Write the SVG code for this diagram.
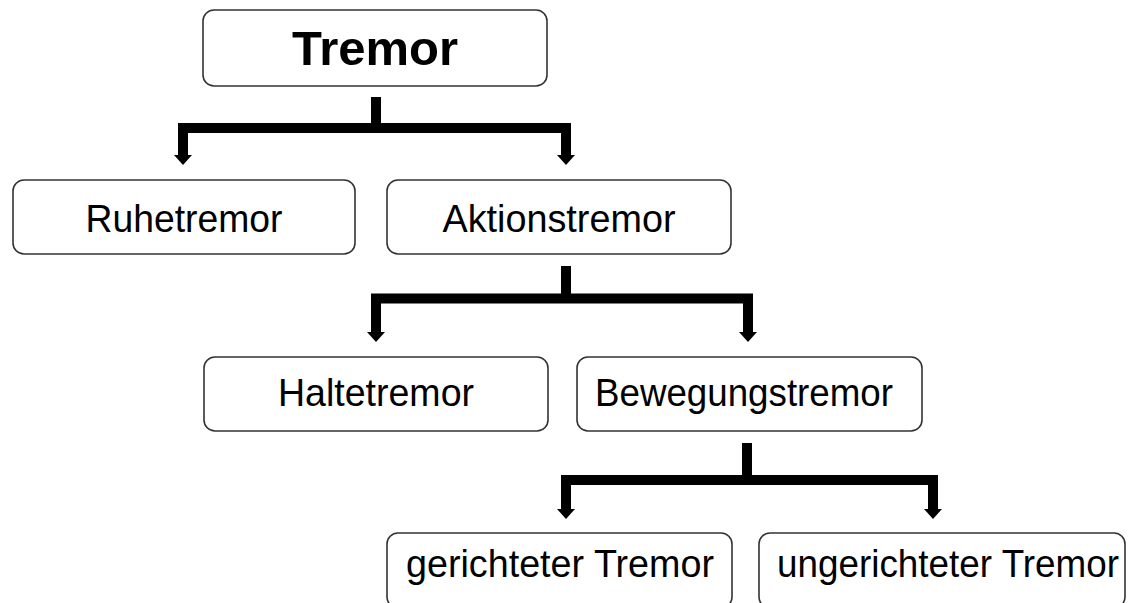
<svg xmlns="http://www.w3.org/2000/svg" xmlns:xlink="http://www.w3.org/1999/xlink" width="1129" height="603" viewBox="0 0 1129 603">
<style>
.box{fill:#fff;stroke:#333;stroke-width:1.6}
.lbl{font-family:"Liberation Sans",Arial,sans-serif;font-size:39.5px;fill:#000;text-anchor:middle}
.title{font-family:"Liberation Sans",Arial,sans-serif;font-size:48px;font-weight:bold;fill:#000;text-anchor:middle}
.bar{fill:none;stroke:#000;stroke-width:10;stroke-linejoin:miter;stroke-linecap:butt}
.head{fill:#000}
</style>
<defs>
<polygon id="ah" points="-9,0 9,0 0,10"/>
</defs>
<rect width="1129" height="603" fill="#fff"/>
<g id="connectors">
  <path class="bar" d="M183,155 V128 H566 V155 M376,97 V128"/>
  <use class="head" xlink:href="#ah" href="#ah" x="183" y="155"/>
  <use class="head" xlink:href="#ah" href="#ah" x="566" y="155"/>
  <path class="bar" d="M376,332 V298.5 H748 V332 M566,266 V298.5"/>
  <use class="head" xlink:href="#ah" href="#ah" x="376" y="332"/>
  <use class="head" xlink:href="#ah" href="#ah" x="748" y="332"/>
  <path class="bar" d="M566,509 V480 H933 V509 M747,443 V480"/>
  <use class="head" xlink:href="#ah" href="#ah" x="566" y="509"/>
  <use class="head" xlink:href="#ah" href="#ah" x="933" y="509"/>
</g>
<g id="tremor">
  <rect class="box" x="203" y="10" width="344" height="76" rx="11"/>
  <text class="title" x="375" y="65" textLength="166" lengthAdjust="spacingAndGlyphs">Tremor</text>
</g>
<g id="ruhetremor">
  <rect class="box" x="13" y="180" width="342" height="74" rx="11"/>
  <text class="lbl" x="184" y="232" textLength="197" lengthAdjust="spacingAndGlyphs">Ruhetremor</text>
</g>
<g id="aktionstremor">
  <rect class="box" x="387" y="180" width="344" height="74" rx="11"/>
  <text class="lbl" x="559" y="232" textLength="233" lengthAdjust="spacingAndGlyphs">Aktionstremor</text>
</g>
<g id="haltetremor">
  <rect class="box" x="204" y="357" width="344" height="74" rx="11"/>
  <text class="lbl" x="376" y="406" textLength="196" lengthAdjust="spacingAndGlyphs">Haltetremor</text>
</g>
<g id="bewegungstremor">
  <rect class="box" x="577" y="357" width="345" height="74" rx="11"/>
  <text class="lbl" x="744" y="406" textLength="298" lengthAdjust="spacingAndGlyphs">Bewegungstremor</text>
</g>
<g id="gerichteter">
  <rect class="box" x="387" y="533" width="345" height="75" rx="11"/>
  <text class="lbl" x="560" y="577" textLength="308" lengthAdjust="spacingAndGlyphs">gerichteter Tremor</text>
</g>
<g id="ungerichteter">
  <rect class="box" x="759" y="533" width="366" height="75" rx="11"/>
  <text class="lbl" x="948" y="577" textLength="342" lengthAdjust="spacingAndGlyphs">ungerichteter Tremor</text>
</g>
</svg>
